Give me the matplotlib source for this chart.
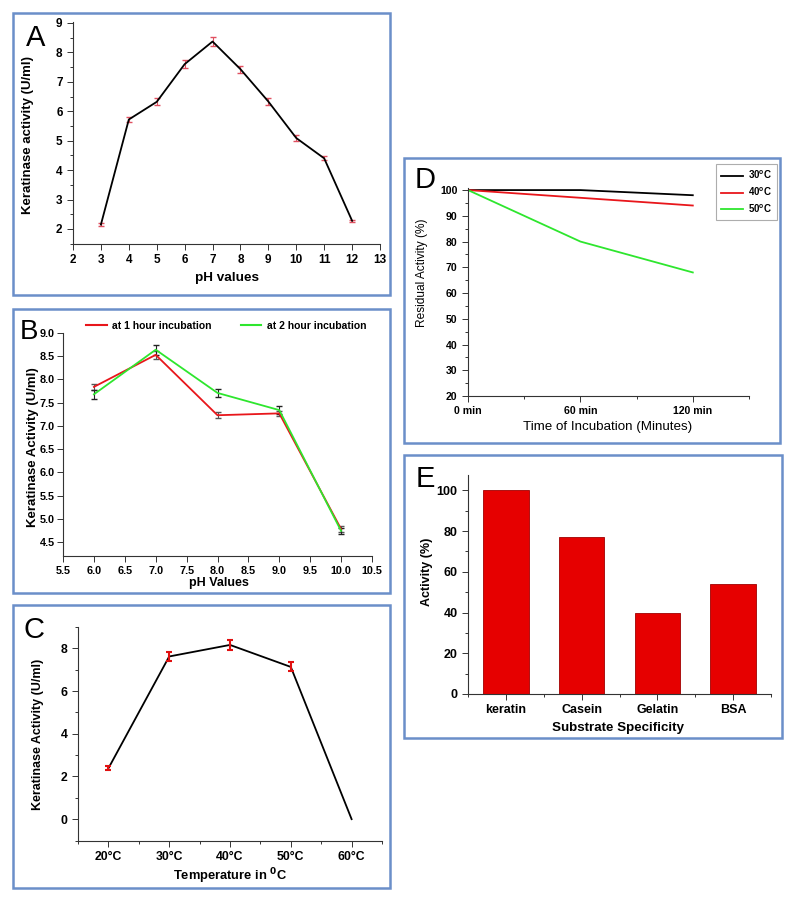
import numpy as np
import matplotlib
matplotlib.use("Agg")
import matplotlib.pyplot as plt
import matplotlib.transforms as mtransforms
from matplotlib.patches import Rectangle
from matplotlib.lines import Line2D
from matplotlib.ticker import MultipleLocator

plt.rcParams['font.family'] = ['Liberation Sans', 'DejaVu Sans']

# ---- data ----
# A: pH profile
ph_a = [3, 4, 5, 6, 7, 8, 9, 10, 11, 12]
act_a = [2.15, 5.72, 6.32, 7.6, 8.37, 7.43, 6.33, 5.09, 4.4, 2.28]
err_a = [0.05, 0.09, 0.12, 0.14, 0.15, 0.12, 0.12, 0.09, 0.07, 0.04]

# B: pH stability
ph_b = [6.0, 7.0, 8.0, 9.0, 10.0]
act_b_1h = [7.84, 8.53, 7.23, 7.27, 4.78]
err_b_1h = [0.07, 0.08, 0.07, 0.05, 0.06]
act_b_2h = [7.68, 8.64, 7.71, 7.34, 4.74]
err_b_2h = [0.1, 0.11, 0.09, 0.08, 0.07]

# C: temperature profile
temp_labels = ['20°C', '30°C', '40°C', '50°C', '60°C']
act_c = [2.38, 7.62, 8.16, 7.13, 0.0]
err_c = [0.1, 0.22, 0.24, 0.21, 0.0]

# D: thermal stability
time_d = [0, 60, 120]
res_30 = [100, 100, 98]
res_40 = [100, 97, 94]
res_50 = [100, 80, 68]

# E: substrate specificity
substrates = ['keratin', 'Casein', 'Gelatin', 'BSA']
act_e = [100, 77, 40, 54]

W, H = 795, 901
fig = plt.figure(figsize=(W / 100, H / 100), dpi=100)
# pixel coords measured from top-left
px = mtransforms.Affine2D().scale(1 / W, -1 / H).translate(0, 1) + fig.transFigure

BOX = '#6b8fc9'
RED = '#e8161b'
GREEN = '#2ee62e'


def add_ax(l, t, r, b, fs):
    ax = fig.add_axes([l / W, 1 - b / H, (r - l) / W, (b - t) / H])
    for s in ['top', 'right']:
        ax.spines[s].set_visible(False)
    for s in ['left', 'bottom']:
        ax.spines[s].set_linewidth(0.8)
        ax.spines[s].set_color('#333333')
    ax.tick_params(which='both', direction='out', labelsize=fs, width=0.7, color='#333333')
    ax.tick_params(which='major', length=4)
    ax.tick_params(which='minor', length=2.5)
    return ax


def boldticks(ax):
    for lab in ax.get_xticklabels() + ax.get_yticklabels():
        lab.set_fontweight('bold')


def frame(l, t, r, b):
    fig.patches.append(Rectangle((l, b), r - l, t - b, transform=px, fill=False,
                                 edgecolor=BOX, linewidth=1.8))


def letter(x, y, s, fs=21):
    fig.text(x, y, s, transform=px, fontsize=fs, ha='center', va='center')


def labels(ax, xl, xpos, yl, ypos, xfs, yfs, weight='bold'):
    ax.set_xlabel(xl, fontsize=xfs, fontweight=weight)
    ax.set_ylabel(yl, fontsize=yfs, fontweight=weight)
    ax.xaxis.set_label_coords(xpos[0], xpos[1], transform=px)
    ax.yaxis.set_label_coords(ypos[0], ypos[1], transform=px)
    ax.xaxis.label.set_va('center')
    ax.yaxis.label.set_va('center')


# ---- panel A ----
frame(13, 13, 390, 295)
axA = add_ax(73, 21.5, 380, 243.7, 8.5)
axA.errorbar(ph_a, act_a, yerr=err_a, color='black', lw=1.3, ecolor='#e05060',
             elinewidth=0.8, capsize=2)
axA.set_xlim(2, 13)
axA.set_ylim(1.5, 9.05)
axA.xaxis.set_major_locator(MultipleLocator(1))
axA.yaxis.set_major_locator(MultipleLocator(1))
axA.yaxis.set_minor_locator(MultipleLocator(0.5))
boldticks(axA)
labels(axA, 'pH values', (227, 278), 'Keratinase activity (U/ml)', (28, 135), 9.7, 9.5)
letter(36, 38, 'A')

# ---- panel B ----
frame(13, 309, 390, 593)
axB = add_ax(63, 333, 372, 556, 7.8)
axB.errorbar(ph_b, act_b_1h, yerr=err_b_1h, color=RED, lw=1.3, ecolor='#555555',
             elinewidth=0.8, capsize=2)
axB.errorbar(ph_b, act_b_2h, yerr=err_b_2h, color=GREEN, lw=1.3, ecolor='#222222',
             elinewidth=0.8, capsize=2)
axB.set_xlim(5.5, 10.5)
axB.set_ylim(4.2, 9.0)
axB.xaxis.set_major_locator(MultipleLocator(0.5))
axB.yaxis.set_major_locator(MultipleLocator(0.5))
axB.xaxis.set_major_formatter('{x:.1f}')
axB.yaxis.set_major_formatter('{x:.1f}')
axB.tick_params(axis='y', pad=2)
boldticks(axB)
labels(axB, 'pH Values', (219, 583), 'Keratinase Activity (U/ml)', (33, 447), 9, 9.5)
hB = [Line2D([], [], color=RED, lw=1.5), Line2D([], [], color=GREEN, lw=1.5)]
axB.legend(hB, ['at 1 hour incubation', 'at 2 hour incubation'], loc='center',
           bbox_to_anchor=(226, 326), bbox_transform=px, ncol=2, frameon=False,
           prop={'weight': 'bold', 'size': 7.5}, handlelength=2.0, columnspacing=2.8,
           handletextpad=0.5, borderaxespad=0, borderpad=0)
letter(29, 332, 'B', fs=20)

# ---- panel C ----
frame(13, 605, 390, 888)
axC = add_ax(78, 627, 382, 840.5, 8.8)
xc = np.arange(len(temp_labels))
axC.plot(xc, act_c, color='black', lw=1.3)
axC.errorbar(xc[:-1], act_c[:-1], yerr=err_c[:-1], fmt='none', ecolor='#e01010',
             elinewidth=1.5, capsize=2.5, capthick=1.5)
axC.set_xlim(-0.5, 4.5)
axC.set_ylim(-1, 9)
axC.set_xticks(xc)
axC.set_xticklabels(temp_labels)
axC.xaxis.set_minor_locator(MultipleLocator(0.5))
axC.yaxis.set_major_locator(MultipleLocator(2))
axC.yaxis.set_minor_locator(MultipleLocator(1))
boldticks(axC)
labels(axC, 'Temperature in $\\mathbf{^0}$C', (230, 876), 'Keratinase Activity (U/ml)', (38, 734),
       9.3, 9)
letter(34, 630, 'C')

# ---- panel D ----
frame(404, 158, 780, 443)
axD = add_ax(468, 187.5, 749, 396, 7.6)
axD.plot(time_d, res_30, color='black', lw=1.3, label='30$^\\mathregular{o}$C')
axD.plot(time_d, res_40, color=RED, lw=1.3, label='40$^\\mathregular{o}$C')
axD.plot(time_d, res_50, color=GREEN, lw=1.3, label='50$^\\mathregular{o}$C')
axD.set_xlim(0, 150)
axD.set_ylim(20, 101)
axD.set_xticks(time_d)
axD.set_xticklabels(['0 min', '60 min', '120 min'])
axD.xaxis.set_minor_locator(MultipleLocator(30))
axD.yaxis.set_major_locator(MultipleLocator(10))
axD.yaxis.set_minor_locator(MultipleLocator(5))
boldticks(axD)
labels(axD, 'Time of Incubation (Minutes)', (608, 427), 'Residual Activity (%)', (422, 273),
       9.6, 8.6, weight='normal')
legD = axD.legend(loc='upper right', bbox_to_anchor=(777, 164), bbox_transform=px,
                  prop={'weight': 'bold', 'size': 7}, fancybox=False, handlelength=2.3,
                  borderpad=0.5, labelspacing=0.45, handletextpad=0.5, borderaxespad=0)
legD.get_frame().set_edgecolor('#999999')
legD.get_frame().set_linewidth(0.8)
letter(425, 180, 'D')

# ---- panel E ----
frame(404, 455, 782, 738)
axE = add_ax(468, 475, 771, 694, 9)
xe = np.arange(len(substrates))
axE.bar(xe, act_e, width=0.6, color='#e60000', edgecolor='#a00000', linewidth=0.6)
axE.set_xlim(-0.5, 3.5)
axE.set_ylim(0, 107.5)
axE.set_xticks(xe)
axE.set_xticklabels(substrates)
axE.xaxis.set_minor_locator(MultipleLocator(0.5))
axE.yaxis.set_major_locator(MultipleLocator(20))
axE.yaxis.set_minor_locator(MultipleLocator(10))
boldticks(axE)
labels(axE, 'Substrate Specificity', (618, 728), 'Activity (%)', (427, 572), 9.6, 9)
letter(425, 479, 'E')

fig.savefig('out.png', dpi=100)
